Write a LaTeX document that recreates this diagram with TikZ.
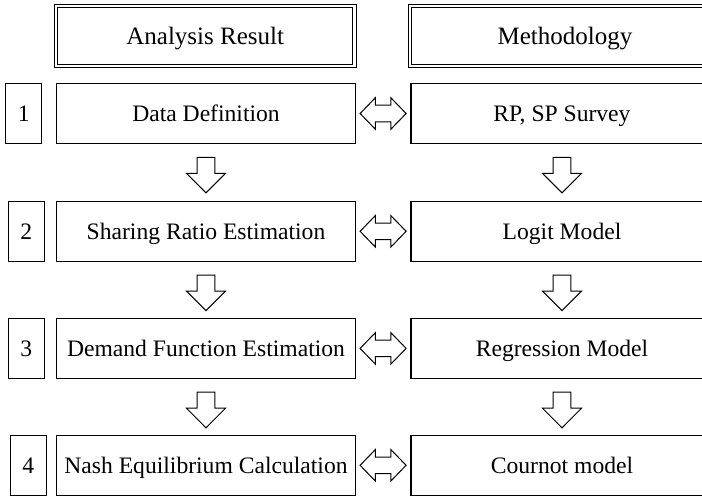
\documentclass[tikz,border=0pt]{standalone}
\usepackage{fontspec}
\setmainfont{Liberation Serif}
\usetikzlibrary{calc}
\tikzset{
  box/.style={draw=black, line width=1.2pt, minimum height=60pt, inner sep=0pt, text height=16.2pt, text depth=0.4pt, font=\fontsize{23.6}{26}\selectfont},
  leftbox/.style={box, minimum width=298.4pt},
  rightbox/.style={box, minimum width=302pt},
  numbox/.style={box, minimum width=36pt},
  headbox/.style={draw=black, line width=1pt, double, double distance=2.3pt, minimum height=60.2pt, inner sep=0pt, text height=16.6pt, text depth=0.4pt, font=\fontsize{25}{28}\selectfont},
  blockarrow/.style={draw=black, line width=1pt, fill=white, line join=miter},
  pics/downarrow/.style={code={
    \draw[blockarrow] (-8.85,0) -- (8.85,0) -- (8.85,16) -- (19.5,16) -- (0,35.6) -- (-19.5,16) -- (-8.85,16) -- cycle;
  }},
  pics/lrarrow/.style={code={
    \draw[blockarrow] (-23,0) -- (-7.7,-15.8) -- (-7.7,-8.3) -- (7.7,-8.3) -- (7.7,-15.8) -- (23,0) -- (7.7,15.8) -- (7.7,8.3) -- (-7.7,8.3) -- (-7.7,15.8) -- cycle;
  }}
}
\begin{document}
\begin{tikzpicture}[x=1pt, y=-1pt]
\useasboundingbox (0,0) rectangle (702,496);
\clip (0,0) rectangle (702,496);
% headers
\node[headbox, minimum width=298.3pt] (hA) at (205.2,35.9) {Analysis Result};
\node[headbox, minimum width=310pt] (hM) at (565,35.9) {Methodology};
% rows
\node[leftbox] (L1) at (206,113.5) {Data Definition};
\node[rightbox] (R1) at (562,113.5) {RP, SP Survey};
\node[numbox] (N1) at (23.7,113.5) {1};
\node[leftbox] (L2) at (206,231.3) {Sharing Ratio Estimation};
\node[rightbox] (R2) at (562,231.3) {Logit Model};
\node[numbox] (N2) at (26.3,231.3) {2};
\node[leftbox] (L3) at (206,348.4) {Demand Function Estimation};
\node[rightbox] (R3) at (562,348.4) {Regression Model};
\node[numbox] (N3) at (26.3,348.4) {3};
\node[leftbox] (L4) at (206,465.3) {Nash Equilibrium Calculation};
\node[rightbox] (R4) at (562,465.3) {Cournot model};
\node[numbox] (N4) at (28.4,465.3) {4};
% double arrows
\foreach \i in {1,2,3,4} {
  \coordinate (D\i) at ($(L\i.east)!0.5!(R\i.west)$);
  \pic at (D\i) {lrarrow};
}
% down arrows
\foreach \i in {1,2,3} {
  \coordinate (DL\i) at ($(L\i.south)+(0,13.2)$);
  \coordinate (DR\i) at ($(R\i.south)+(0,13.2)$);
  \pic at (DL\i) {downarrow};
  \pic at (DR\i) {downarrow};
}
\end{tikzpicture}
\end{document}
